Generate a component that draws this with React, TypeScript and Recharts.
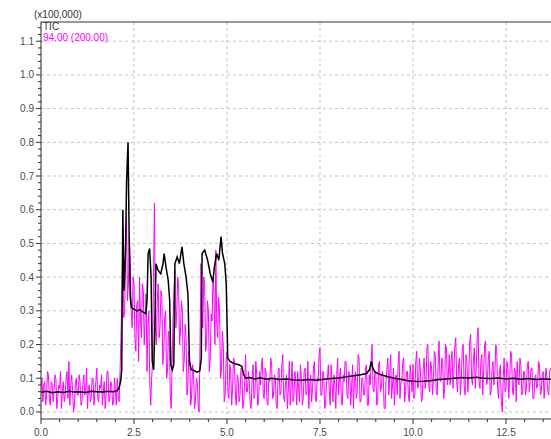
import React from 'react'
import { LineChart, Line, XAxis, YAxis, CartesianGrid, ReferenceLine } from 'recharts'

// TIC trace (black), retention time in minutes / intensity in units of 100,000
const ticTime = [
  0.0, 0.15, 0.3, 0.45, 0.6, 0.75, 0.9, 1.05, 1.2, 1.35, 1.5, 1.65, 1.8, 1.95, 2.05, 2.1, 2.14, 2.17,
  2.2, 2.23, 2.27, 2.3, 2.34, 2.37, 2.4, 2.43, 2.5, 2.58, 2.66, 2.74, 2.82, 2.85, 2.88, 2.92, 2.96,
  2.99, 3.03, 3.07, 3.09, 3.15, 3.22, 3.28, 3.31, 3.36, 3.42, 3.46, 3.49, 3.53, 3.57, 3.6, 3.66, 3.72,
  3.79, 3.84, 3.9, 3.95, 3.99, 4.04, 4.12, 4.2, 4.27, 4.31, 4.33, 4.4, 4.48, 4.55, 4.62, 4.66, 4.72,
  4.78, 4.84, 4.88, 4.94, 4.98, 5.02, 5.08, 5.16, 5.24, 5.32, 5.4, 5.45, 5.5, 5.6, 5.75, 5.9, 6.05,
  6.2, 6.4, 6.6, 6.8, 7.0, 7.2, 7.4, 7.6, 7.8, 8.0, 8.2, 8.4, 8.6, 8.75, 8.83, 8.88, 8.92, 8.98, 9.1,
  9.3, 9.5, 9.7, 9.9, 10.1, 10.3, 10.5, 10.7, 10.9, 11.1, 11.3, 11.5, 11.7, 11.9, 12.1, 12.3, 12.5,
  12.7, 12.9, 13.1, 13.3, 13.5, 13.71,
]
const ticValue = [
  0.058, 0.061, 0.057, 0.06, 0.058, 0.061, 0.059, 0.06, 0.058, 0.061, 0.06, 0.059, 0.061, 0.06, 0.063,
  0.072, 0.09, 0.125, 0.6, 0.36, 0.47, 0.68, 0.8, 0.52, 0.34, 0.31, 0.305, 0.3, 0.303, 0.296, 0.292,
  0.33, 0.47, 0.485, 0.4, 0.15, 0.125, 0.3, 0.44, 0.42, 0.41, 0.44, 0.47, 0.43, 0.39, 0.33, 0.14,
  0.125, 0.14, 0.44, 0.46, 0.44, 0.49, 0.44, 0.4, 0.35, 0.15, 0.125, 0.122, 0.118, 0.122, 0.16, 0.47,
  0.48, 0.45, 0.41, 0.385, 0.43, 0.47, 0.45, 0.52, 0.47, 0.44, 0.38, 0.16, 0.15, 0.145, 0.142, 0.14,
  0.135, 0.11, 0.1, 0.102, 0.098, 0.101, 0.097, 0.1, 0.096, 0.098, 0.095, 0.094, 0.096, 0.094, 0.097,
  0.099, 0.101, 0.104, 0.107, 0.11, 0.114, 0.125, 0.15, 0.13, 0.118, 0.112, 0.105, 0.1, 0.096, 0.092,
  0.09, 0.091, 0.093, 0.096, 0.098, 0.1, 0.102, 0.101, 0.103, 0.1, 0.099, 0.101, 0.098, 0.1, 0.097,
  0.099, 0.096, 0.098, 0.097,
]

// m/z 94.00 trace (magenta), sampled every 0.025 min from 0.0
const mzStep = 0.025
const mzValue = [
  // 0.000 - 0.975
  0.07, 0.1, 0.03, 0.08, 0.09, 0.02, 0.05, 0.12, 0.11, 0.04, 0.02, 0.09, 0.08, 0.03, 0.06, 0.11, 0.1, 0.01, 0.04, 0.08,
  0.07, 0.12, 0.01, 0.06, 0.09, 0.03, 0.05, 0.1, 0.12, 0.04, 0.15, 0.02, 0.08, 0.11, 0.06, 0.0, 0.02, 0.09, 0.1, 0.05,
  // 1.000 - 1.975
  0.05, 0.11, 0.09, 0.02, 0.03, 0.08, 0.11, 0.05, 0.06, 0.13, 0.01, 0.07, 0.08, 0.03, 0.04, 0.1, 0.1, 0.02, 0.06, 0.09,
  0.13, 0.04, 0.03, 0.08, 0.07, 0.11, 0.02, 0.06, 0.09, 0.01, 0.05, 0.12, 0.12, 0.03, 0.04, 0.09, 0.08, 0.02, 0.03, 0.1,
  // 2.000 - 2.975
  0.06, 0.02, 0.1, 0.05, 0.03, 0.12, 0.22, 0.35, 0.5, 0.28, 0.3, 0.45, 0.58, 0.33, 0.38, 0.52, 0.45, 0.3, 0.25, 0.4,
  0.38, 0.22, 0.18, 0.32, 0.33, 0.15, 0.4, 0.27, 0.22, 0.38, 0.36, 0.2, 0.28, 0.35, 0.12, 0.25, 0.3, 0.08, 0.02, 0.1,
  // 3.000 - 3.975
  0.15, 0.4, 0.62, 0.25, 0.2, 0.33, 0.38, 0.22, 0.25, 0.36, 0.34, 0.14, 0.18, 0.28, 0.3, 0.1, 0.12, 0.24, 0.22, 0.05,
  0.01, 0.15, 0.28, 0.36, 0.42, 0.25, 0.3, 0.4, 0.38, 0.2, 0.24, 0.33, 0.3, 0.12, 0.15, 0.26, 0.22, 0.05, 0.08, 0.18,
  // 4.000 - 4.975
  0.16, 0.02, 0.05, 0.14, 0.12, 0.01, 0.03, 0.1, 0.09, 0.02, 0.0, 0.2, 0.44, 0.3, 0.25, 0.4, 0.38, 0.18, 0.2, 0.33,
  0.3, 0.12, 0.16, 0.29, 0.27, 0.4, 0.35, 0.2, 0.48, 0.26, 0.22, 0.34, 0.3, 0.1, 0.12, 0.24, 0.2, 0.03, 0.05, 0.15,
  // 5.000 - 5.975
  0.18, 0.06, 0.04, 0.14, 0.12, 0.02, 0.07, 0.16, 0.15, 0.05, 0.02, 0.11, 0.1, 0.03, 0.05, 0.13, 0.13, 0.01, 0.03, 0.09,
  0.17, 0.06, 0.06, 0.12, 0.09, 0.02, 0.01, 0.1, 0.14, 0.04, 0.05, 0.15, 0.11, 0.02, 0.03, 0.12, 0.08, 0.14, 0.16, 0.05,
  // 6.000 - 6.975
  0.04, 0.13, 0.12, 0.03, 0.02, 0.1, 0.09, 0.16, 0.14, 0.04, 0.05, 0.11, 0.1, 0.02, 0.01, 0.12, 0.13, 0.05, 0.06, 0.14,
  0.17, 0.04, 0.03, 0.09, 0.11, 0.01, 0.07, 0.15, 0.02, 0.08, 0.15, 0.03, 0.05, 0.12, 0.09, 0.02, 0.12, 0.07, 0.03, 0.14,
  // 7.000 - 7.975
  0.1, 0.02, 0.04, 0.12, 0.13, 0.05, 0.06, 0.15, 0.01, 0.08, 0.11, 0.03, 0.07, 0.13, 0.15, 0.04, 0.03, 0.1, 0.09, 0.17,
  0.19, 0.05, 0.05, 0.12, 0.12, 0.01, 0.02, 0.09, 0.1, 0.14, 0.06, 0.02, 0.14, 0.08, 0.03, 0.11, 0.08, 0.01, 0.11, 0.16,
  // 8.000 - 8.975
  0.05, 0.1, 0.13, 0.03, 0.02, 0.11, 0.09, 0.15, 0.15, 0.05, 0.04, 0.12, 0.11, 0.02, 0.07, 0.14, 0.01, 0.09, 0.12, 0.04,
  0.06, 0.17, 0.16, 0.03, 0.03, 0.1, 0.1, 0.05, 0.05, 0.13, 0.14, 0.02, 0.02, 0.11, 0.08, 0.15, 0.2, 0.07, 0.06, 0.12,
  // 9.000 - 9.975
  0.12, 0.02, 0.03, 0.14, 0.15, 0.06, 0.07, 0.12, 0.1, 0.01, 0.01, 0.09, 0.13, 0.16, 0.05, 0.11, 0.17, 0.04, 0.08, 0.13,
  0.02, 0.1, 0.11, 0.05, 0.14, 0.18, 0.04, 0.09, 0.09, 0.15, 0.16, 0.03, 0.06, 0.12, 0.12, 0.05, 0.03, 0.14, 0.1, 0.06,
  // 10.000 - 10.975
  0.14, 0.04, 0.05, 0.15, 0.18, 0.07, 0.08, 0.16, 0.12, 0.03, 0.04, 0.13, 0.16, 0.07, 0.09, 0.19, 0.2, 0.08, 0.06, 0.15,
  0.13, 0.05, 0.1, 0.18, 0.17, 0.06, 0.05, 0.14, 0.21, 0.1, 0.09, 0.16, 0.14, 0.04, 0.07, 0.2, 0.19, 0.08, 0.11, 0.17,
  // 11.000 - 11.975
  0.08, 0.15, 0.18, 0.07, 0.12, 0.2, 0.22, 0.09, 0.06, 0.14, 0.16, 0.05, 0.1, 0.19, 0.2, 0.08, 0.05, 0.17, 0.15, 0.06,
  0.11, 0.21, 0.23, 0.1, 0.08, 0.16, 0.19, 0.07, 0.13, 0.22, 0.25, 0.09, 0.07, 0.15, 0.17, 0.05, 0.12, 0.2, 0.21, 0.08,
  // 12.000 - 12.975
  0.09, 0.16, 0.18, 0.05, 0.06, 0.13, 0.15, 0.08, 0.11, 0.2, 0.19, 0.07, 0.04, 0.12, 0.14, 0.03, 0.0, 0.1, 0.16, 0.06,
  0.07, 0.15, 0.13, 0.04, 0.1, 0.18, 0.17, 0.06, 0.05, 0.13, 0.12, 0.03, 0.15, 0.09, 0.08, 0.16, 0.14, 0.05, 0.06, 0.12,
  // 13.000 - 13.700
  0.12, 0.05, 0.07, 0.14, 0.15, 0.06, 0.09, 0.13, 0.13, 0.04, 0.04, 0.1, 0.11, 0.07, 0.08, 0.15, 0.14, 0.05, 0.06, 0.11,
  0.12, 0.04, 0.09, 0.13, 0.1, 0.06, 0.05, 0.12, 0.13,
]

const xMajorTicks = [0, 2.5, 5, 7.5, 10, 12.5]
const xMajorLabels = ['0.0', '2.5', '5.0', '7.5', '10.0', '12.5']
const yMajorTicks = [0, 0.1, 0.2, 0.3, 0.4, 0.5, 0.6, 0.7, 0.8, 0.9, 1.0, 1.1]
const yMajorLabels = ['0.0', '0.1', '0.2', '0.3', '0.4', '0.5', '0.6', '0.7', '0.8', '0.9', '1.0', '1.1']

// minor ticks: 0.5 min on x, 0.02 on y
const xTicks = Array.from({ length: 28 }, (_, i) => +(i * 0.5).toFixed(2))
const yTicks = Array.from({ length: 58 }, (_, i) => +(i * 0.02).toFixed(2))

const X_MAX = 13.71
const Y_MIN = -0.021
const Y_MAX = 1.157

const ticData = ticTime.map((t, i) => ({ t, v: ticValue[i] }))
const mzData = mzValue.map((v, i) => ({ t: +(i * mzStep).toFixed(3), v }))

const FONT = '"Liberation Sans", Arial, sans-serif'
const AXIS = '#333333'
const LABEL = '#4a4a4a'

const YTick = (props: any) => {
  const { x, y, payload } = props
  const idx = yMajorTicks.findIndex(m => Math.abs(m - payload.value) < 1e-6)
  const major = idx >= 0
  return (
    <g>
      <line x1={x - (major ? 5 : 3)} x2={x} y1={y} y2={y} stroke={AXIS} strokeWidth={1} />
      {major && (
        <text x={x - 7} y={y} dy={3.5} textAnchor="end" fontSize={10} fontFamily={FONT} fill={LABEL}>
          {yMajorLabels[idx]}
        </text>
      )}
    </g>
  )
}

const XTick = (props: any) => {
  const { x, y, payload } = props
  const idx = xMajorTicks.findIndex(m => Math.abs(m - payload.value) < 1e-6)
  const major = idx >= 0
  return (
    <g>
      <line x1={x} x2={x} y1={y} y2={y + (major ? 5 : 3)} stroke={AXIS} strokeWidth={1} />
      {major && (
        <text x={x} y={y + 17} textAnchor="middle" fontSize={10} fontFamily={FONT} fill={LABEL}>
          {xMajorLabels[idx]}
        </text>
      )}
    </g>
  )
}

export default function App() {
  return (
    <div style={{ position: 'absolute', left: 0, top: 0, width: 551, height: 439, background: '#fff', overflow: 'hidden' }}>
      <LineChart width={551} height={439} margin={{ top: 22, right: 0, bottom: 0, left: 0 }}>
        <CartesianGrid
          stroke="#c4c4c4"
          strokeDasharray="3 3"
          horizontalValues={yMajorTicks}
          verticalValues={xMajorTicks}
        />
        <XAxis
          dataKey="t"
          type="number"
          domain={[0, X_MAX]}
          ticks={xTicks}
          interval={0}
          height={20}
          tickSize={0}
          tickMargin={0}
          tickLine={false}
          axisLine={{ stroke: AXIS }}
          tick={<XTick />}
          allowDataOverflow
        />
        <YAxis
          type="number"
          domain={[Y_MIN, Y_MAX]}
          ticks={yTicks}
          interval={0}
          width={41}
          tickSize={0}
          tickMargin={0}
          tickLine={false}
          axisLine={{ stroke: AXIS }}
          tick={<YTick />}
          allowDataOverflow
        />
        <ReferenceLine y={Y_MAX} stroke={AXIS} strokeWidth={1} />
        <Line
          data={mzData}
          dataKey="v"
          type="linear"
          stroke="#ff00ff"
          strokeWidth={1}
          dot={false}
          isAnimationActive={false}
        />
        <Line
          data={ticData}
          dataKey="v"
          type="linear"
          stroke="#000000"
          strokeWidth={1.5}
          dot={false}
          isAnimationActive={false}
        />
      </LineChart>
      <div style={{ position: 'absolute', left: 34, top: 10, fontFamily: FONT, fontSize: 10, color: '#333', lineHeight: '10px' }}>
        (x100,000)
      </div>
      <div style={{ position: 'absolute', left: 43, top: 22, fontFamily: FONT, fontSize: 10, color: '#333', lineHeight: '10px' }}>
        TIC
      </div>
      <div style={{ position: 'absolute', left: 43, top: 33, fontFamily: FONT, fontSize: 10, color: '#ff00ff', lineHeight: '10px' }}>
        94.00 (200.00)
      </div>
    </div>
  )
}
